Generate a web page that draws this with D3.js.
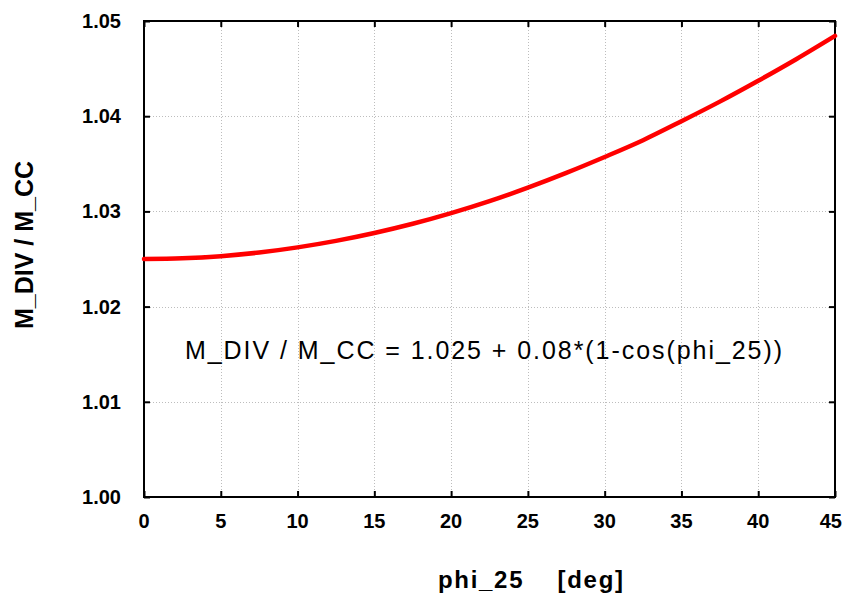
<!DOCTYPE html>
<html><head><meta charset="utf-8">
<script src="https://cdn.jsdelivr.net/npm/d3@7"></script>
<style>
html,body{margin:0;padding:0;background:#fff;}
svg{display:block;font-family:"Liberation Sans",Arial,sans-serif;}
</style></head>
<body>
<svg id="c" width="844" height="596"></svg>
<script>
// Data
const phi = [0, 2.5, 5, 7.5, 10, 12.5, 15, 17.5, 20, 22.5, 25, 27.5, 30, 32.5, 35, 37.5, 40, 42.5, 45];
const ratio = [1.0250, 1.02508, 1.02530, 1.02568, 1.02622, 1.02690, 1.02773, 1.02870, 1.02982, 1.03108,
               1.03250, 1.03405, 1.03572, 1.03748, 1.03947, 1.04153, 1.04372, 1.04601, 1.04843];
const xTicks = [0, 5, 10, 15, 20, 25, 30, 35, 40, 45];
const yTicks = [1.00, 1.01, 1.02, 1.03, 1.04, 1.05];
const xTitle = "phi_25    [deg]";
const yTitle = "M_DIV / M_CC";
const note = "M_DIV / M_CC = 1.025 + 0.08*(1-cos(phi_25))";

const svg = d3.select("#c");
const L = 144, R = 835, T = 21, B = 497;
const x = d3.scaleLinear().domain([0, 45]).range([L, R]);
const y = d3.scaleLinear().domain([1.00, 1.05]).range([B, T]);

// grid
const grid = svg.append("g").attr("stroke", "#bdbdbd").attr("stroke-width", 1).attr("stroke-dasharray", "1,2");
grid.selectAll("line.gx").data(xTicks.slice(1, -1)).join("line")
  .attr("x1", d => Math.round(x(d)) + 0.5).attr("x2", d => Math.round(x(d)) + 0.5).attr("y1", T).attr("y2", B);
grid.selectAll("line.gy").data(yTicks.slice(1, -1)).join("line")
  .attr("y1", d => Math.round(y(d)) + 0.5).attr("y2", d => Math.round(y(d)) + 0.5).attr("x1", L).attr("x2", R);

// axes with inward ticks
const tickStyle = g => { g.select(".domain").remove(); g.selectAll(".tick line").attr("stroke", "#000").attr("stroke-width", 2); g.selectAll(".tick text").remove(); };
svg.append("g").attr("transform", `translate(0,${B})`)
  .call(d3.axisBottom(x).tickValues(xTicks).tickSizeInner(-6).tickSizeOuter(0)).call(tickStyle);
svg.append("g").attr("transform", `translate(0,${T})`)
  .call(d3.axisTop(x).tickValues(xTicks).tickSizeInner(-6).tickSizeOuter(0)).call(tickStyle);
svg.append("g").attr("transform", `translate(${L},0)`)
  .call(d3.axisLeft(y).tickValues(yTicks).tickSizeInner(-6).tickSizeOuter(0)).call(tickStyle);
svg.append("g").attr("transform", `translate(${R},0)`)
  .call(d3.axisRight(y).tickValues(yTicks).tickSizeInner(-6).tickSizeOuter(0)).call(tickStyle);

// tick labels
const last = xTicks[xTicks.length - 1];
svg.append("g").selectAll("text").data(xTicks).join("text")
  .attr("x", d => d === last ? 842 : x(d)).attr("y", 528)
  .attr("text-anchor", d => d === last ? "end" : "middle")
  .attr("font-size", 20).attr("font-weight", "bold").attr("fill", "#000").text(d3.format("d"));
svg.append("g").selectAll("text").data(yTicks).join("text")
  .attr("x", 121).attr("y", d => y(d) + 7).attr("text-anchor", "end")
  .attr("font-size", 20).attr("font-weight", "bold").attr("fill", "#000").text(d3.format(".2f"));

// frame
svg.append("rect").attr("x", L).attr("y", T).attr("width", R - L).attr("height", B - T)
  .attr("fill", "none").attr("stroke", "#000").attr("stroke-width", 2);

// curve
const line = d3.line().x((d, i) => x(phi[i])).y(d => y(d)).curve(d3.curveMonotoneX);
svg.append("path").datum(ratio).attr("d", line)
  .attr("fill", "none").attr("stroke", "#ff0000").attr("stroke-width", 4.5).attr("stroke-linecap", "round");

// annotation
svg.append("text").attr("x", 185).attr("y", 359)
  .attr("textLength", 597).attr("lengthAdjust", "spacing")
  .attr("font-size", 25).attr("fill", "#000").text(note);

// titles
svg.append("text").attr("x", 438).attr("y", 588)
  .attr("textLength", 185).attr("lengthAdjust", "spacing")
  .attr("font-size", 24).attr("font-weight", "bold").attr("fill", "#000").attr("xml:space", "preserve")
  .style("white-space", "pre").text(xTitle);
svg.append("text").attr("transform", `translate(33,${(153 + 337) / 2}) rotate(-90)`).attr("text-anchor", "middle")
  .attr("font-size", 25).attr("font-weight", "bold").attr("fill", "#000").text(yTitle);
</script>
</body></html>
